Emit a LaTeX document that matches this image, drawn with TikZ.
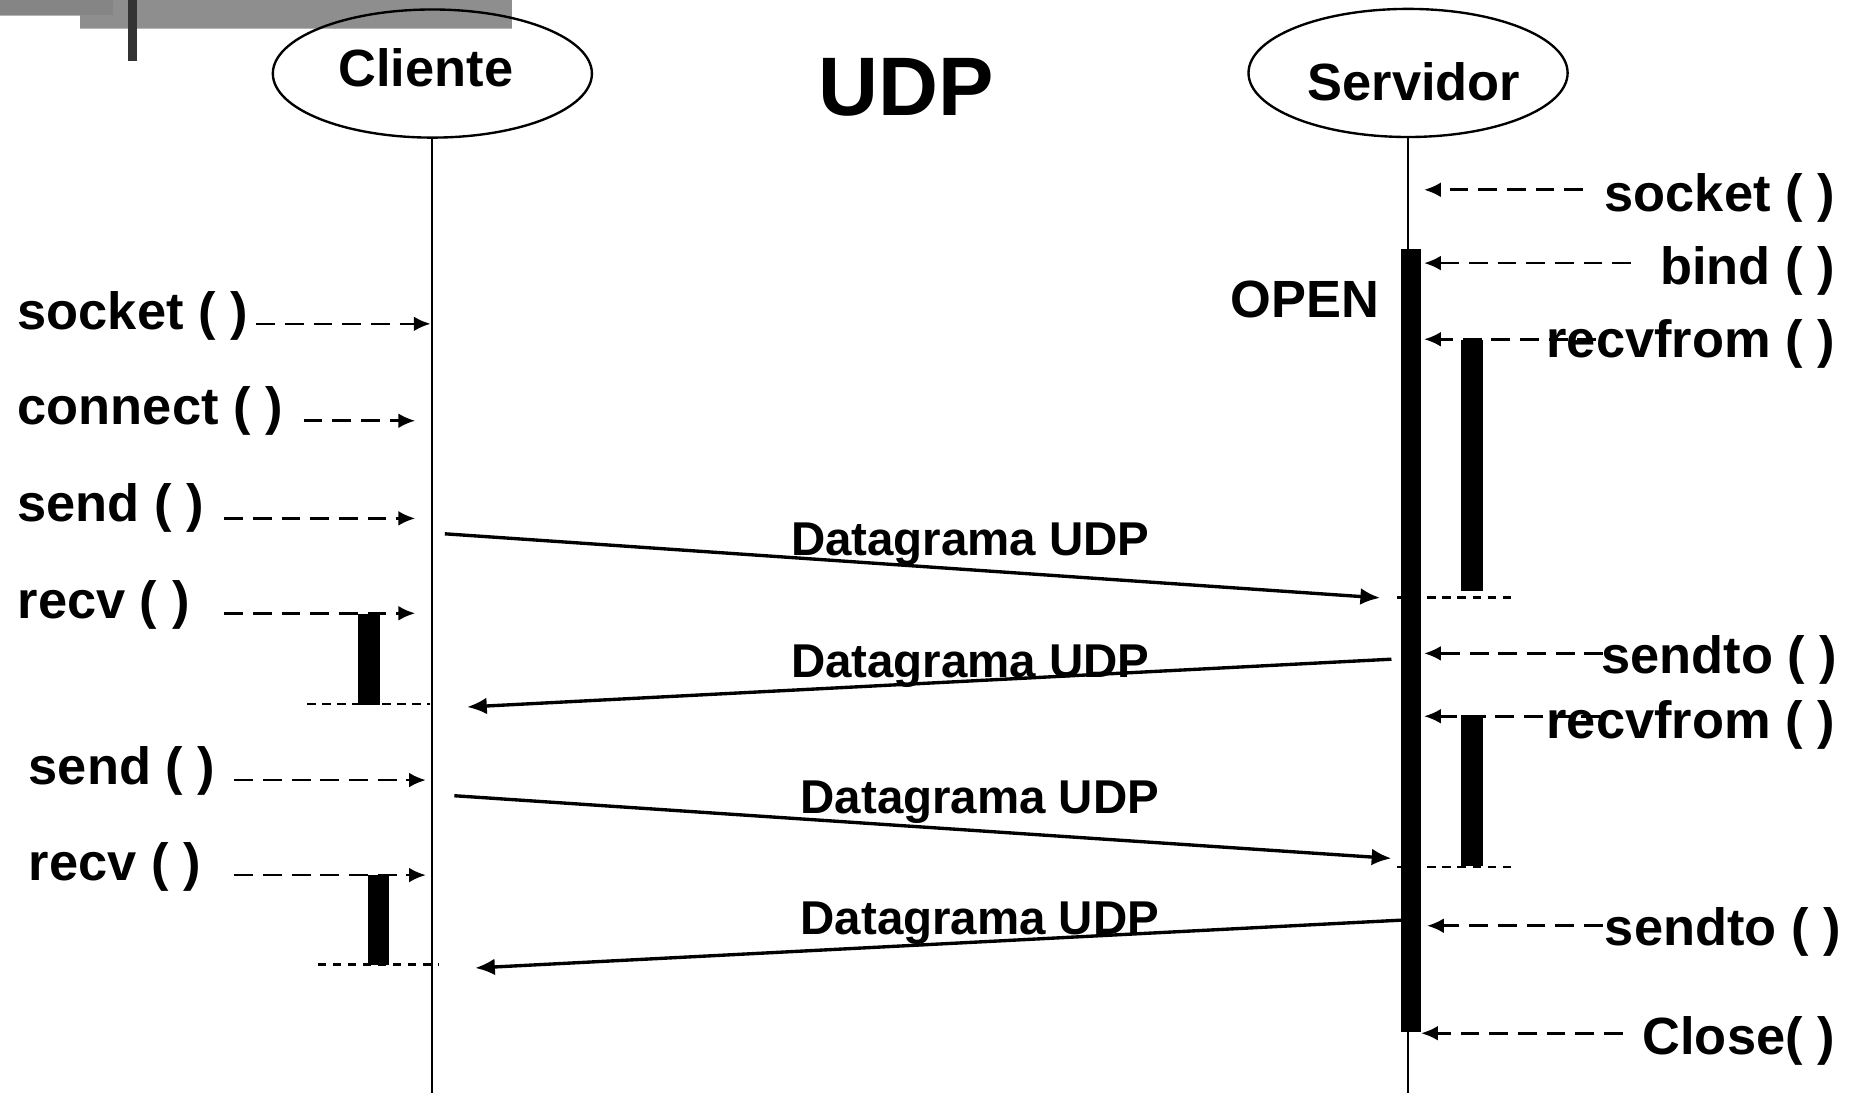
\documentclass[tikz,border=0pt]{standalone}
\usepackage{fontspec}
\setmainfont{Liberation Sans}
\usetikzlibrary{arrows.meta,shapes.geometric}

\definecolor{bandA}{HTML}{858585}
\definecolor{bandB}{HTML}{8E8E8E}
\definecolor{bandEdge}{HTML}{B4B4B4}
\definecolor{bandDark}{HTML}{333333}

\begin{document}
\begin{tikzpicture}[x=0.6pt, y=-0.6pt,
  lbl/.style={font=\bfseries\fontsize{26.5}{30}\selectfont, inner sep=0pt},
  dgram/.style={font=\bfseries\fontsize{24}{28}\selectfont, inner sep=0pt, anchor=base west},
  actor/.style={ellipse, draw, line width=1.2pt, minimum width=161.4pt, minimum height=64.8pt, inner sep=0pt},
  life/.style={line width=1pt},
  call/.style={line width=1.35pt, dash pattern=on 9.5pt off 5pt, -{Latex[length=8.5pt,width=7.5pt]}},
  msg/.style={line width=1.7pt, -{Latex[length=10pt,width=8.5pt]}},
  tick/.style={line width=1.35pt, dash pattern=on 4.2pt off 3.4pt},
  actbar/.style={fill=black}
]
\useasboundingbox (0,0) rectangle (1568,921);

% header bands in the top left corner
\fill[bandB] (67.4,0) rectangle (431.7,23.9);
\draw[bandEdge, line width=0.6pt] (67.4,24.2) -- (431.7,24.2);
\fill[bandA] (0,0) rectangle (95.6,12.6);
\draw[bandEdge, line width=0.6pt] (0,12.9) -- (67.4,12.9);
\fill[bandDark] (108,0) rectangle (115.5,51.4);

% actors
\node[actor] (cli) at (364.5,62) {};
\node[actor] (srv) at (1187,61.5) {};
\node[lbl, anchor=base] (clitxt) at (359,73) {Cliente};
\node[lbl, anchor=base] (srvtxt) at (1192,84.5) {Servidor};
\node[font=\bfseries\fontsize{42}{46}\selectfont, inner sep=0pt, anchor=base] (title) at (764,97.3) {UDP};

% lifelines
\coordinate (cliend) at (364,921);
\coordinate (srvend) at (1186.6,921);
\draw[life] (cli.south -| cliend) -- (cliend);
\draw[life] (srv.south -| srvend) -- (srvend);

% activation bars
\fill[actbar] (1181,210.3) rectangle (1198,870);
\fill[actbar] (1232,287) rectangle (1250,498);
\fill[actbar] (1232,603) rectangle (1250,730);
\fill[actbar] (302,518) rectangle (320,594);
\fill[actbar] (310,738) rectangle (328,813.6);

% client calls
\node[lbl, anchor=base west] (csock) at (14.6,278) {socket ( )};
\node[lbl, anchor=base west] (cconn) at (14.6,358) {connect ( )};
\node[lbl, anchor=base west] (csend1) at (14.6,440) {send ( )};
\node[lbl, anchor=base west] (crecv1) at (14.6,521) {recv ( )};
\node[lbl, anchor=base west] (csend2) at (24,661) {send ( )};
\node[lbl, anchor=base west] (crecv2) at (24,742) {recv ( )};

\coordinate (csockA) at (216,273);     \coordinate (csockB) at (363,273);
\coordinate (cconnA) at (256,354.7);   \coordinate (cconnB) at (350,354.7);
\coordinate (csend1A) at (189,437);    \coordinate (csend1B) at (350,437);
\coordinate (crecv1A) at (189,517);    \coordinate (crecv1B) at (350,517);
\coordinate (csend2A) at (197.6,657.6);\coordinate (csend2B) at (359,657.6);
\coordinate (crecv2A) at (197.6,737.7);\coordinate (crecv2B) at (359,737.7);
\draw[call] (csockA) -- (csockB);
\draw[call] (cconnA) -- (cconnB);
\draw[call] (csend1A) -- (csend1B);
\draw[call] (crecv1A) -- (crecv1B);
\draw[call] (csend2A) -- (csend2B);
\draw[call] (crecv2A) -- (crecv2B);

% server calls
\coordinate (ssockA) at (1334.6,160);  \coordinate (ssockB) at (1200.5,160);
\coordinate (sbindA) at (1375,221.8);  \coordinate (sbindB) at (1200.5,221.8);
\coordinate (srcv1A) at (1345.6,286);  \coordinate (srcv1B) at (1200.5,286);
\coordinate (ssnd1A) at (1351.5,550.8);\coordinate (ssnd1B) at (1200.5,550.8);
\coordinate (srcv2A) at (1349,603.8);  \coordinate (srcv2B) at (1200.5,603.8);
\coordinate (ssnd2A) at (1351,780.4);  \coordinate (ssnd2B) at (1203,780.4);
\coordinate (sclsA) at (1368,871);     \coordinate (sclsB) at (1198,871);
\draw[call] (ssockA) -- (ssockB);
\draw[call] (sbindA) -- (sbindB);
\draw[call] (srcv1A) -- (srcv1B);
\draw[call] (ssnd1A) -- (ssnd1B);
\draw[call] (srcv2A) -- (srcv2B);
\draw[call] (ssnd2A) -- (ssnd2B);
\draw[call] (sclsA) -- (sclsB);

\node[lbl, anchor=base east] (ssock) at (1547,178) {socket ( )};
\node[lbl, anchor=base east] (sbind) at (1547,239.5) {bind ( )};
\node[lbl, anchor=base east] (open) at (1163,268) {OPEN};
\node[lbl, anchor=base east] (srcv1) at (1547,301) {recvfrom ( )};
\node[lbl, anchor=base east] (ssnd1) at (1549,568) {sendto ( )};
\node[lbl, anchor=base east] (srcv2) at (1547,622.4) {recvfrom ( )};
\node[lbl, anchor=base east] (ssnd2) at (1552,797) {sendto ( )};
\node[lbl, anchor=base east] (scls) at (1547,888.6) {Close( )};

% end-of-wait markers
\coordinate (tk1A) at (1178,503.6); \coordinate (tk1B) at (1279,503.6);
\coordinate (tk2A) at (259,593.6);  \coordinate (tk2B) at (362.5,593.6);
\coordinate (tk3A) at (1178,731);   \coordinate (tk3B) at (1279,731);
\coordinate (tk4A) at (268,813);    \coordinate (tk4B) at (370,813);
\draw[tick] (tk1A) -- (tk1B);
\draw[tick] (tk2A) -- (tk2B);
\draw[tick] (tk3A) -- (tk3B);
\draw[tick] (tk4A) -- (tk4B);

% datagrams
\coordinate (m1A) at (375,450);    \coordinate (m1B) at (1163.5,504);
\coordinate (m2A) at (1173,555.7); \coordinate (m2B) at (393.7,596);
\coordinate (m3A) at (383,670.8);  \coordinate (m3B) at (1173,723.6);
\coordinate (m4A) at (1183,775.6); \coordinate (m4B) at (400.5,816);
\draw[msg] (m1A) -- (m1B);
\draw[msg] (m2A) -- (m2B);
\draw[msg] (m3A) -- (m3B);
\draw[msg] (m4A) -- (m4B);
\node[dgram] (d1) at (666.5,468) {Datagrama UDP};
\node[dgram] (d2) at (666.5,571) {Datagrama UDP};
\node[dgram] (d3) at (674.6,685.7) {Datagrama UDP};
\node[dgram] (d4) at (674.6,788) {Datagrama UDP};
\end{tikzpicture}
\end{document}
